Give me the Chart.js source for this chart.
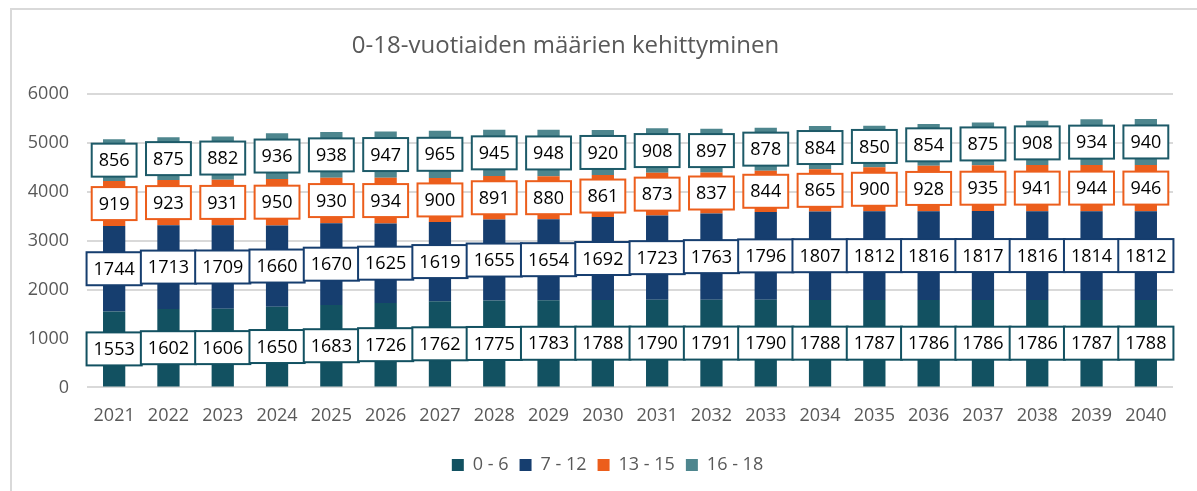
<!DOCTYPE html>
<html>
<head>
<meta charset="utf-8">
<script src="https://cdn.jsdelivr.net/npm/chart.js@4"></script>
<style>
  html, body { margin: 0; padding: 0; background: #fff; }
  #wrap { position: relative; width: 1197px; height: 491px; overflow: hidden; }
  #frame { position: absolute; left: 10px; top: 8px; width: 1300px; height: 600px;
           border-left: 2px solid #d9d9d9; border-top: 2px solid #d9d9d9; }
  canvas { position: absolute; left: 0; top: 0; }
</style>
</head>
<body>
<div id="wrap">
  <div id="frame"></div>
  <canvas id="chart" width="1197" height="491"></canvas>
</div>
<script>
const years = ['2021', '2022', '2023', '2024', '2025', '2026', '2027', '2028', '2029', '2030',
               '2031', '2032', '2033', '2034', '2035', '2036', '2037', '2038', '2039', '2040'];
const age0to6 = [1553, 1602, 1606, 1650, 1683, 1726, 1762, 1775, 1783, 1788,
                 1790, 1791, 1790, 1788, 1787, 1786, 1786, 1786, 1787, 1788];
const age7to12 = [1744, 1713, 1709, 1660, 1670, 1625, 1619, 1655, 1654, 1692,
                  1723, 1763, 1796, 1807, 1812, 1816, 1817, 1816, 1814, 1812];
const age13to15 = [919, 923, 931, 950, 930, 934, 900, 891, 880, 861,
                   873, 837, 844, 865, 900, 928, 935, 941, 944, 946];
const age16to18 = [856, 875, 882, 936, 938, 947, 965, 945, 948, 920,
                   908, 897, 878, 884, 850, 854, 875, 908, 934, 940];
const yTicks = [0, 1000, 2000, 3000, 4000, 5000, 6000];

const FONT = '"Open Sans", sans-serif';
const GRAY = '#595959';

// draws the boxed value labels in the middle of every segment
const boxLabels = {
    id: 'boxLabels',
    afterLayout(chart) {
        // title sits a bit left of the plot centre, legend a bit right
        chart.titleBlock.left -= 42;
        chart.legend.left += 42;
    },
    afterDatasetsDraw(chart) {
        const ctx = chart.ctx;
        ctx.save();
        ctx.font = '18px ' + FONT;
        ctx.textAlign = 'center';
        ctx.textBaseline = 'middle';
        chart.data.datasets.forEach((ds, i) => {
            const meta = chart.getDatasetMeta(i);
            meta.data.forEach((bar, j) => {
                const text = String(ds.data[j]);
                const w = ctx.measureText(text).width + 14;
                const h = 33;
                const cy = (bar.y + bar.base) / 2;
                ctx.fillStyle = '#fff';
                ctx.fillRect(bar.x - w / 2, cy - h / 2, w, h);
                ctx.lineWidth = 2;
                ctx.strokeStyle = ds.labelBorder;
                ctx.strokeRect(bar.x - w / 2, cy - h / 2, w, h);
                ctx.fillStyle = '#000';
                ctx.fillText(text, bar.x, cy + 1);
            });
        });
        ctx.restore();
    }
};

const ctx = document.getElementById('chart').getContext('2d');
new Chart(ctx, {
    type: 'bar',
    data: {
        labels: years,
        datasets: [
            { label: '0 - 6', data: age0to6, backgroundColor: '#125161', labelBorder: '#125161' },
            { label: '7 - 12', data: age7to12, backgroundColor: '#163E6F', labelBorder: '#163E6F' },
            { label: '13 - 15', data: age13to15, backgroundColor: '#EC5E1C', labelBorder: '#EC5E1C' },
            { label: '16 - 18', data: age16to18, backgroundColor: '#4E868E', labelBorder: '#1D5A68' }
        ]
    },
    options: {
        responsive: false,
        animation: false,
        devicePixelRatio: 1,
        datasets: {
            bar: { categoryPercentage: 1, barPercentage: 0.41 }
        },
        layout: { padding: { top: 20, right: 24, bottom: 7, left: 0 } },
        plugins: {
            title: {
                display: true,
                text: '0-18-vuotiaiden määrien kehittyminen',
                color: GRAY,
                font: { family: FONT, size: 24, weight: 'normal' },
                padding: { top: 12, bottom: 33 }
            },
            legend: {
                position: 'bottom',
                labels: {
                    color: GRAY,
                    font: { family: FONT, size: 18 },
                    boxWidth: 12,
                    boxHeight: 12,
                    padding: 11
                }
            },
            tooltip: { enabled: false }
        },
        scales: {
            x: {
                stacked: true,
                grid: { display: false, drawTicks: false },
                border: { display: false },
                ticks: { color: GRAY, font: { family: FONT, size: 18 }, padding: 18 }
            },
            y: {
                stacked: true,
                min: 0,
                max: 6000,
                afterBuildTicks: (axis) => { axis.ticks = yTicks.map(v => ({ value: v })); },
                afterFit: (axis) => { axis.width = 87; },
                grid: { color: '#d9d9d9', lineWidth: 2, drawTicks: false },
                border: { display: false },
                ticks: {
                    color: GRAY,
                    font: { family: FONT, size: 18 },
                    padding: 18,
                    callback: (v) => String(v)
                }
            }
        }
    },
    plugins: [boxLabels]
});
</script>
</body>
</html>
